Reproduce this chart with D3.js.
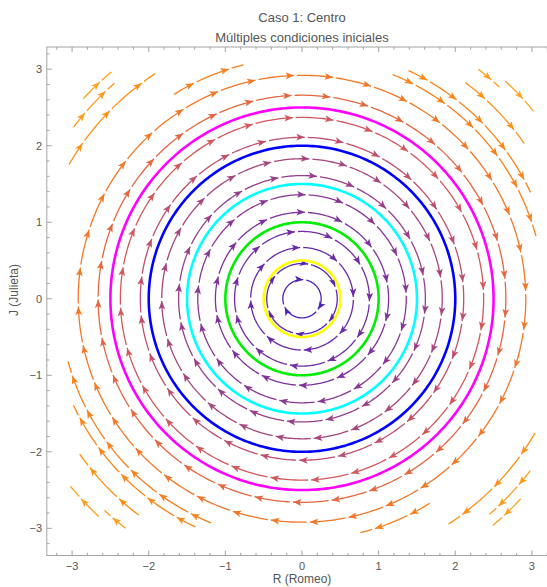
<!DOCTYPE html>
<html><head><meta charset="utf-8">
<script src="https://cdn.jsdelivr.net/npm/d3@7"></script>
<style>body{margin:0;background:#fff} text{font-family:"Liberation Sans",Arial,sans-serif}</style>
</head><body>
<svg id="c" width="547" height="587"></svg>
<script>
const title1 = "Caso 1: Centro";
const title2 = "Múltiples condiciones iniciales";
const xLabel = "R (Romeo)";
const yLabel = "J (Julieta)";
const tickValues = [-3, -2, -1, 0, 1, 2, 3];
const circleRadii = [0.5, 1, 1.5, 2, 2.5];
const circleColors = ["#ffff00", "#00ee00", "#00ffff", "#0000ff", "#ff00ff"];
// full-circle streamlines
const ringRadii = [0.25, 0.46, 0.67, 0.88, 1.13, 1.36, 1.61, 1.83, 2.11, 2.37, 2.66, 2.92];
const ringArrowCounts = [3, 6, 8, 11, 14, 17, 20, 23, 26, 28, 33, 36];
const ringArrowPhase = [86, 80, 92, 96, 88, 88, 83, 87, 89, 80, 82, 82];
// partial streamlines in corners: radius, start angle, end angle (deg, flow clockwise)
const arcRadii = [3.16, 3.29, 3.54, 3.78, 3.89, 3.15, 3.51, 3.73, 3.87, 3.16, 3.29, 3.54, 3.78, 3.89, 3.15, 3.51, 3.73, 3.87];
const arcStart = [68, 65, 53, 52.5, 47, 122, 150, 143, 137.5, 248, 245, 233, 232.5, 227, 302, 330, 323, 317.5];
const arcEnd   = [15, 25, 35, 47, 39, 104, 123, 131, 130, 195, 205, 215, 227, 219, 284, 303, 311, 310];
// colour by speed
const colorStops = [0.2, 0.7, 1.3, 1.8, 2.2, 2.5, 2.9, 3.4, 3.9];
const colorValues = ["#4a22ba", "#6a2aaa", "#853598", "#a4457f", "#c65268", "#dc5c52", "#f27628", "#fd8a12", "#ffa41e"];

const svg = d3.select("#c");
const x = d3.scaleLinear().domain([-3.33, 3.33]).range([46.8, 557.2]);
const y = d3.scaleLinear().domain([-3.355, 3.29]).range([555.5, 47]);
const col = d3.scaleLinear().domain(colorStops).range(colorValues).clamp(true);

svg.append("defs").append("clipPath").attr("id", "clip")
  .append("rect").attr("x", x(-3.33)).attr("y", y(3.29))
  .attr("width", x(3.33) - x(-3.33)).attr("height", y(-3.355) - y(3.29));

const plot = svg.append("g").attr("clip-path", "url(#clip)");
const line = d3.line().x(d => x(d[0])).y(d => y(d[1]));
const rad = Math.PI / 180;
const pxPerUnit = x(1) - x(0);

function arcPts(r, a0, a1) { // a0 > a1, clockwise
  const n = Math.max(4, Math.ceil(Math.abs(a0 - a1)));
  return d3.range(n + 1).map(i => {
    const a = (a0 + (a1 - a0) * i / n) * rad;
    return [r * Math.cos(a), r * Math.sin(a)];
  });
}
function drawArrow(g, r, aDeg, c) {
  const a = aDeg * rad;
  const px = x(r * Math.cos(a)), py = y(r * Math.sin(a));
  const ang = Math.atan2(Math.cos(a), Math.sin(a)) / rad;
  g.append("path").attr("d", "M0,0L-8.5,-3.4L-6.5,0L-8.5,3.4Z")
    .attr("transform", `translate(${px},${py}) rotate(${ang})`)
    .attr("fill", c).attr("stroke", "none");
}
const gapPx = 3;
function drawStream(r, arrowAngles, a0, a1, c) {
  const g = plot.append("g");
  const gapDeg = gapPx / (r * pxPerUnit) / rad;
  let start = a0;
  arrowAngles.forEach(aa => {
    g.append("path").attr("d", line(arcPts(r, start, aa)))
      .attr("fill", "none").attr("stroke", c).attr("stroke-width", 1.3);
    start = aa - gapDeg;
  });
  if (start > a1) {
    g.append("path").attr("d", line(arcPts(r, start, a1)))
      .attr("fill", "none").attr("stroke", c).attr("stroke-width", 1.3);
  }
  arrowAngles.forEach(aa => drawArrow(g, r, aa, c));
}

ringRadii.forEach((r, i) => {
  const n = ringArrowCounts[i];
  const step = 360 / n;
  const ph = ringArrowPhase[i];
  const arrows = d3.range(n).map(k => ph - k * step);
  const gapDeg = gapPx / (r * pxPerUnit) / rad;
  drawStream(r, arrows, ph + step - gapDeg, ph - (n - 1) * step, col(r));
});

arcRadii.forEach((r, i) => {
  const a0 = arcStart[i], a1 = arcEnd[i];
  const lenPx = (a0 - a1) * rad * r * pxPerUnit;
  const n = Math.max(1, Math.round(lenPx / 37));
  const arrows = d3.range(n).map(k => a0 - (k + 0.6) * (a0 - a1) / n);
  drawStream(r, arrows, a0, a1, col(r));
});

circleRadii.forEach((r, i) => {
  plot.append("path").attr("d", line(arcPts(r, 360, 0)))
    .attr("fill", "none").attr("stroke", circleColors[i]).attr("stroke-width", 2.6);
});

// frame
const fc = "#a3a3a3";
svg.append("rect").attr("x", x(-3.33)).attr("y", y(3.29))
  .attr("width", x(3.33) - x(-3.33)).attr("height", y(-3.355) - y(3.29))
  .attr("fill", "none").attr("stroke", fc).attr("stroke-width", 1);
const minor = d3.range(-16, 17).map(k => k * 0.2).filter(v => Math.abs(v - Math.round(v)) > 1e-6);
const ticks = svg.append("g").attr("stroke", fc).attr("stroke-width", 1);
tickValues.concat(minor).forEach(v => {
  const L = tickValues.includes(v) ? 5 : 2.7;
  const X = x(v), Y = y(v);
  ticks.append("line").attr("x1", X).attr("x2", X).attr("y1", y(-3.355)).attr("y2", y(-3.355) - L);
  ticks.append("line").attr("x1", X).attr("x2", X).attr("y1", y(3.29)).attr("y2", y(3.29) + L);
  ticks.append("line").attr("y1", Y).attr("y2", Y).attr("x1", x(-3.33)).attr("x2", x(-3.33) + L);
  ticks.append("line").attr("y1", Y).attr("y2", Y).attr("x1", x(3.33)).attr("x2", x(3.33) - L);
});
const fmt = v => v < 0 ? "\u2212" + Math.abs(v) : String(v);
tickValues.forEach(v => {
  svg.append("text").attr("x", x(v)).attr("y", 570).attr("text-anchor", "middle")
    .attr("font-size", 11).attr("fill", "#555").text(fmt(v));
  svg.append("text").attr("x", 42).attr("y", y(v) + 4).attr("text-anchor", "end")
    .attr("font-size", 11).attr("fill", "#555").text(fmt(v));
});
svg.append("text").attr("x", 302).attr("y", 22).attr("text-anchor", "middle")
  .attr("font-size", 13).attr("fill", "#555").text(title1);
svg.append("text").attr("x", 302).attr("y", 42).attr("text-anchor", "middle")
  .attr("font-size", 13).attr("fill", "#555").text(title2);
svg.append("text").attr("x", 302).attr("y", 583).attr("text-anchor", "middle")
  .attr("font-size", 12).attr("fill", "#555").text(xLabel);
svg.append("text").attr("transform", "translate(18,290) rotate(-90)").attr("text-anchor", "middle")
  .attr("font-size", 12).attr("fill", "#555").text(yLabel);
</script>
</body></html>
